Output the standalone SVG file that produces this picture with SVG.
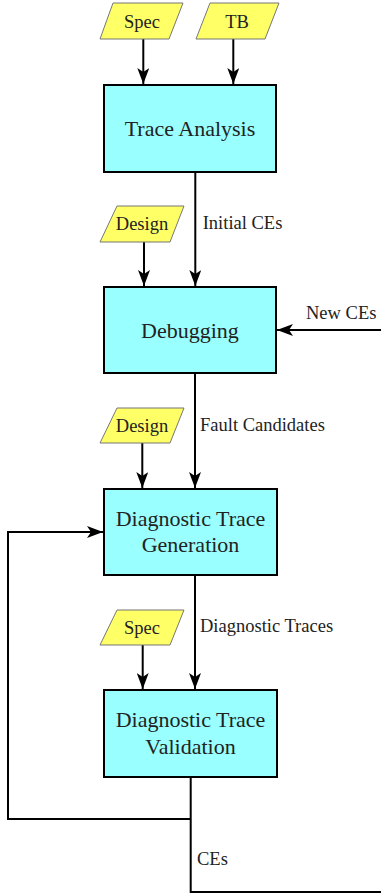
<svg xmlns="http://www.w3.org/2000/svg" width="381" height="894" viewBox="0 0 381 894">
<style>
.box{fill:#99ffff;stroke:#000;stroke-width:2}
.io{fill:#ffff66;stroke:#777;stroke-width:1}
.bt{font-family:"Liberation Serif",serif;font-size:22px;fill:#222;text-anchor:middle}
.it{font-family:"Liberation Serif",serif;font-size:18.5px;fill:#222;text-anchor:middle}
.lb{font-family:"Liberation Serif",serif;font-size:18.5px;fill:#222}
.cn{fill:none;stroke:#000;stroke-width:2}
</style>
<defs>
<marker id="ah" markerUnits="userSpaceOnUse" markerWidth="16" markerHeight="12" viewBox="0 0 16 12" refX="16" refY="6" orient="auto">
<path d="M0,0 L16,6 L0,12 L4,6 z" fill="#000"/>
</marker>
</defs>
<g id="connectors">
<line class="cn" x1="143.3" y1="39" x2="143.3" y2="84" marker-end="url(#ah)"/>
<line class="cn" x1="233.3" y1="39" x2="233.3" y2="84" marker-end="url(#ah)"/>
<line class="cn" x1="195.3" y1="172" x2="195.3" y2="286" marker-end="url(#ah)"/>
<line class="cn" x1="144" y1="242" x2="144" y2="286" marker-end="url(#ah)"/>
<line class="cn" x1="381" y1="330" x2="277" y2="330" marker-end="url(#ah)"/>
<line class="cn" x1="195" y1="373" x2="195" y2="488" marker-end="url(#ah)"/>
<line class="cn" x1="142.3" y1="443" x2="142.3" y2="488" marker-end="url(#ah)"/>
<line class="cn" x1="195" y1="575" x2="195" y2="689" marker-end="url(#ah)"/>
<line class="cn" x1="142.7" y1="645" x2="142.7" y2="689" marker-end="url(#ah)"/>
<polyline class="cn" points="190.7,777 190.7,892 381,892"/>
<polyline class="cn" points="190.7,819 8,819 8,532 103,532" marker-end="url(#ah)"/>
<text class="lb" x="202.7" y="229">Initial CEs</text>
<text class="lb" x="306" y="319.3">New CEs</text>
<text class="lb" x="200" y="430.7">Fault Candidates</text>
<text class="lb" x="200" y="631.7">Diagnostic Traces</text>
<text class="lb" x="197" y="865">CEs</text>
</g>
<g id="spec1"><polygon class="io" points="113,3 183,3 169,39 100,39"/><text class="it" x="142" y="28">Spec</text></g>
<g id="tb"><polygon class="io" points="210,3 279,3 265,39 196,39"/><text class="it" x="237" y="28">TB</text></g>
<g id="traceAnalysis"><rect class="box" x="104" y="85" width="172" height="87"/><text class="bt" x="190" y="136">Trace Analysis</text></g>
<g id="design1"><polygon class="io" points="117,206 184,206 170,242 100,242"/><text class="it" x="142" y="230">Design</text></g>
<g id="debugging"><rect class="box" x="104" y="287" width="172" height="86"/><text class="bt" x="190" y="337.5">Debugging</text></g>
<g id="design2"><polygon class="io" points="117,408 184,408 170,443 100,443"/><text class="it" x="142" y="431.7">Design</text></g>
<g id="dtg"><rect class="box" x="104" y="489" width="173" height="86"/><text class="bt" x="190.5" y="526">Diagnostic Trace</text><text class="bt" x="190.5" y="552.3">Generation</text></g>
<g id="spec2"><polygon class="io" points="117,610 184,610 170,645 100,645"/><text class="it" x="142" y="634">Spec</text></g>
<g id="dtv"><rect class="box" x="104" y="690" width="173" height="87"/><text class="bt" x="190.5" y="726.7">Diagnostic Trace</text><text class="bt" x="190.5" y="754.3">Validation</text></g>
</svg>
